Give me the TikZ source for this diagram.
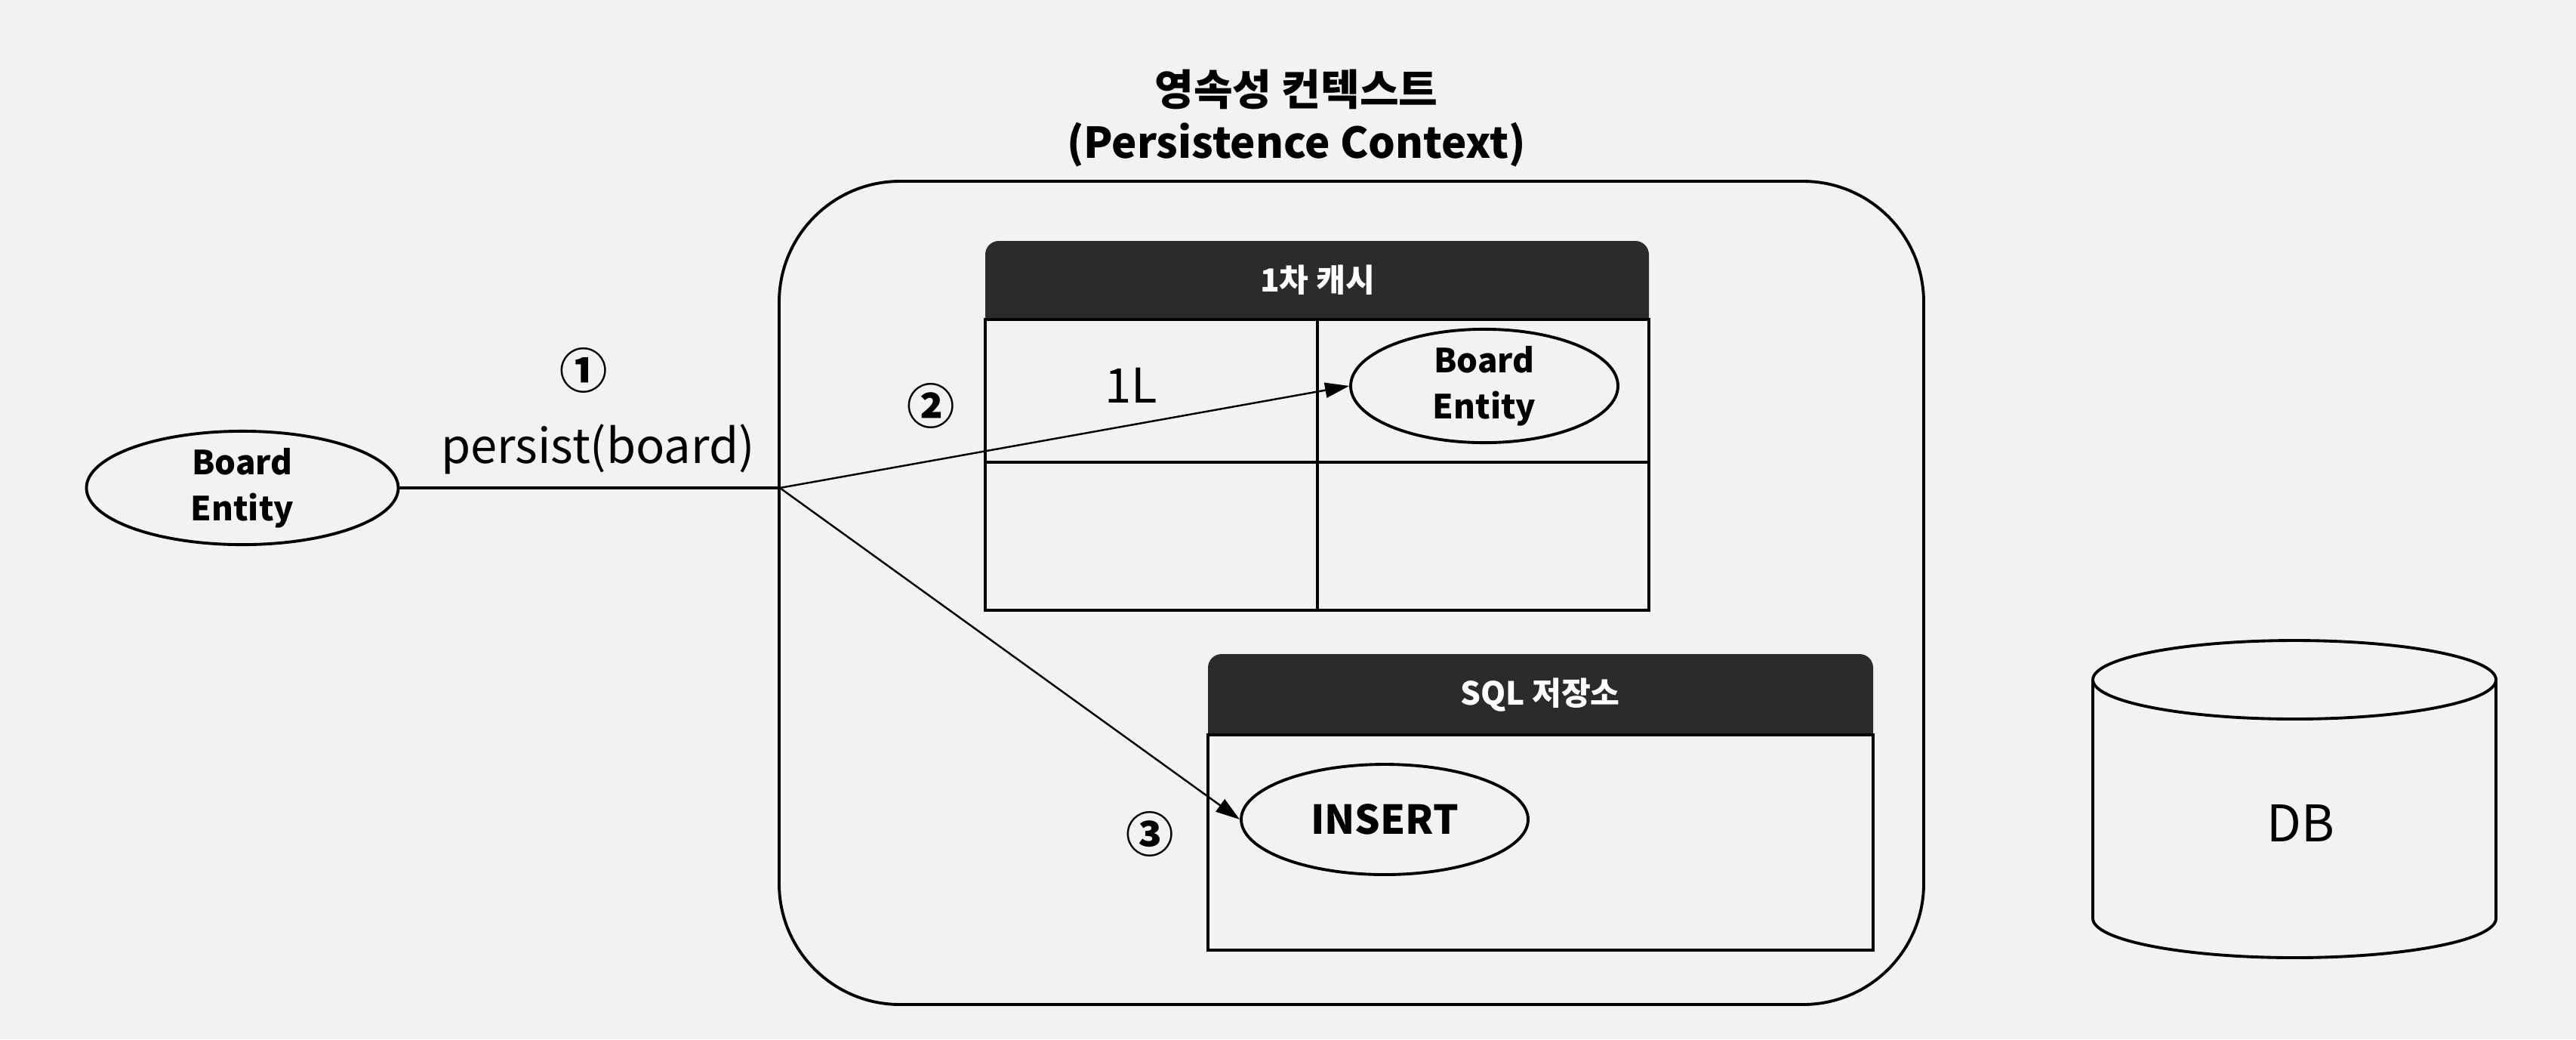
\documentclass[tikz,border=0pt]{standalone}
\usepackage{fontspec}
\setmainfont{Noto Sans CJK KR}
\usetikzlibrary{shapes.geometric,arrows.meta}
\definecolor{paper}{RGB}{243,242,240}
\definecolor{hdrgray}{RGB}{45,43,42}
\begin{document}
\begin{tikzpicture}[
    entity/.style={ellipse, draw, line width=1.1pt, inner sep=0pt, align=center,
                   font=\fontsize{12.5}{17.5}\selectfont\bfseries},
    tbl/.style={line width=1.4pt},
    hdrtext/.style={text=white, font=\fontsize{12}{14}\selectfont\bfseries},
    stepno/.style={font=\fontsize{18}{20}\selectfont\bfseries},
    flow/.style={-{Triangle[length=0.32cm,width=0.2cm]}, line width=0.7pt}
  ]
  \fill[paper] (0,0) rectangle (34.12,-13.76);
  \useasboundingbox (0,0) rectangle (34.12,-13.76);

  % persistence context
  \node[font=\fontsize{16}{18}\selectfont\bfseries] (ctxko) at (17.17,-1.18) {영속성 컨텍스트};
  \node[font=\fontsize{16}{18}\selectfont\bfseries] (ctxen) at (17.17,-1.92) {(Persistence Context)};
  \node[draw, line width=1.1pt, rounded corners=1.6cm, minimum width=15.16cm,
        minimum height=10.9cm] (ctx) at (17.90,-7.85) {};

  % header bars
  \foreach \l/\t/\r/\b in {13.05/3.19/21.84/4.23, 16.00/8.66/24.81/9.73}{
    \fill[hdrgray] (\l,-\b) -- (\l,-\t-0.18) arc[start angle=180, end angle=90, radius=0.18]
      -- (\r-0.18,-\t) arc[start angle=90, end angle=0, radius=0.18] -- (\r,-\b) -- cycle;
  }

  % 1st level cache
  \draw[tbl] (13.05,-4.23) rectangle (21.84,-8.08);
  \draw[tbl] (17.45,-4.23) -- (17.45,-8.08);
  \draw[tbl] (13.05,-6.12) -- (21.84,-6.12);
  \node[hdrtext] (cachehd) at (17.45,-3.71) {1차 캐시};
  \node[font=\fontsize{18}{20}\selectfont] (key) at (14.98,-5.10) {1L};
  \node[entity, minimum width=3.54cm, minimum height=1.43cm] (cached) at (19.66,-5.11) {Board\\Entity};

  % sql store
  \draw[tbl] (16.00,-9.73) rectangle (24.81,-12.58);
  \node[hdrtext] (sqlhd) at (20.40,-9.20) {SQL 저장소};
  \node[entity, font=\fontsize{15}{17}\selectfont\bfseries, minimum width=3.8cm,
        minimum height=1.46cm] (insert) at (18.34,-10.85) {INSERT};

  % db
  \draw[line width=1.1pt] (27.72,-9.00) -- (27.72,-12.16)
    arc[start angle=180, end angle=360, x radius=2.67, y radius=0.52] -- (33.06,-9.00);
  \draw[line width=1.1pt] (30.39,-9.00) ellipse [x radius=2.67, y radius=0.52];
  \node[font=\fontsize{19}{21}\selectfont] (db) at (30.47,-10.90) {DB};

  % board entity and persist
  \node[entity, minimum width=4.13cm, minimum height=1.45cm] (board) at (3.21,-6.46) {Board\\Entity};
  \coordinate (em) at (10.33,-6.46);
  \draw[line width=1pt] (board) -- (em);
  \draw[flow] (em) -- (cached.west);
  \draw[flow] (em) -- (insert.west);
  \node[stepno] (s1) at (7.73,-4.90) {①};
  \node[font=\fontsize{18}{20}\selectfont] (persist) at (7.92,-5.95) {persist(board)};
  \node[stepno] (s2) at (12.33,-5.37) {②};
  \node[stepno] (s3) at (15.23,-11.04) {③};
\end{tikzpicture}
\end{document}
